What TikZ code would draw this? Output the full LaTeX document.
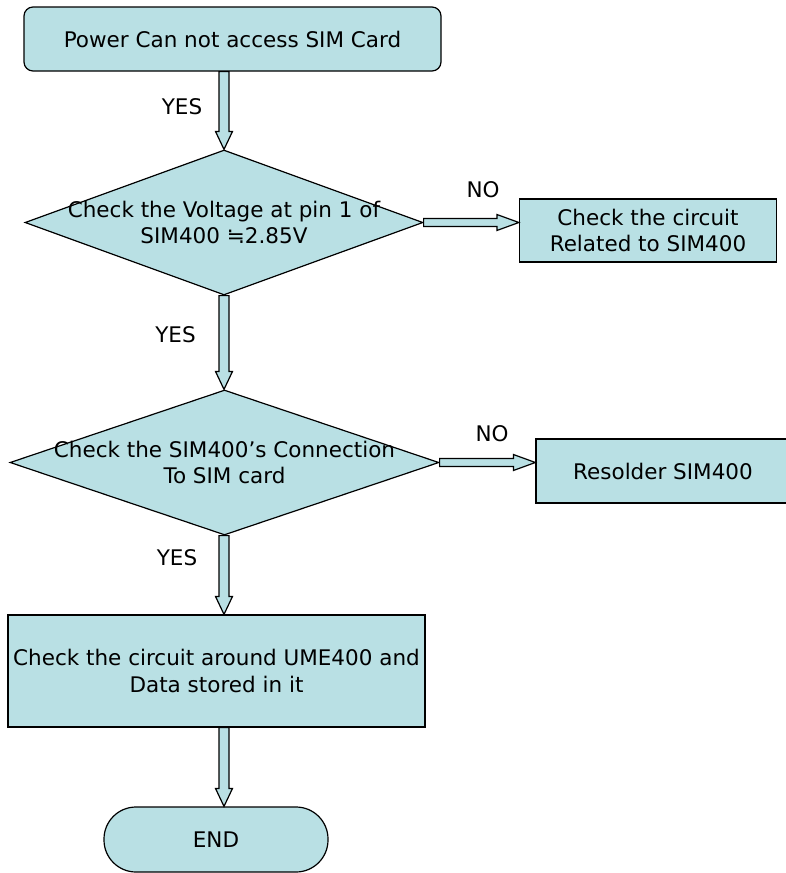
\documentclass[tikz,border=0pt]{standalone}
\usepackage{fontspec}
\setmainfont{DejaVu Sans}
\usetikzlibrary{shapes.geometric,calc}
\definecolor{boxfill}{RGB}{185,224,228}
\tikzset{box/.style={draw, fill=boxfill, line width=1.2pt, align=center, inner sep=0pt},
	dec/.style={diamond, draw, fill=boxfill, line width=1.2pt, inner sep=0pt},
	fat/.style={draw, fill=boxfill, line width=1.2pt, line join=miter},
	lbl/.style={inner sep=0pt}}
% hollow block arrows
\newcommand{\vfat}[2]{\draw[fat] ($(#1.south -| axis)+(-5,0)$) -- ($(#2.north -| axis)+(-5,-18)$) -- ($(#2.north -| axis)+(-8.5,-18)$) -- (#2.north -| axis) -- ($(#2.north -| axis)+(8.5,-18)$) -- ($(#2.north -| axis)+(5,-18)$) -- ($(#1.south -| axis)+(5,0)$) -- cycle;}
\newcommand{\hfat}[2]{\draw[fat] ($(#1.east)+(0,-4)$) -- ($(#2.west |- #1.east)+(-22,-4)$) -- ($(#2.west |- #1.east)+(-22,-8)$) -- (#2.west |- #1.east) -- ($(#2.west |- #1.east)+(-22,8)$) -- ($(#2.west |- #1.east)+(-22,4)$) -- ($(#1.east)+(0,4)$) -- cycle;}
\begin{document}
\begin{tikzpicture}[x=1pt, y=-1pt, every node/.style={font=\fontsize{21.5}{26.5}\selectfont}]
		\useasboundingbox (0,0) rectangle (786,873);
		\coordinate (axis) at (224,0);
		\node[box, rounded corners=9pt, minimum width=417, minimum height=64] (s) at (232.5,39) {Power Can not access SIM Card};
		\node[dec, minimum width=398, minimum height=145, label={[align=center]center:Check the Voltage at pin 1 of\\SIM400 ≒2.85V}] (d1) at (224,222.5) {};
		\node[box, minimum width=257, minimum height=63] (c) at (648,230.5) {Check the circuit\\Related to SIM400};
		\node[dec, minimum width=429, minimum height=145, label={[align=center]center:Check the SIM400’s Connection\\To SIM card}] (d2) at (224.5,462.5) {};
		\node[box, minimum width=254, minimum height=64] (r) at (663,471) {Resolder SIM400};
		\node[box, minimum width=417, minimum height=112] (u) at (216.5,671) {Check the circuit around UME400 and\\Data stored in it};
		\node[box, rounded corners=32pt, minimum width=224, minimum height=65] (e) at (216,839.5) {END};
		\vfat{s}{d1}
		\vfat{d1}{d2}
		\vfat{d2}{u}
		\vfat{u}{e}
		\hfat{d1}{c}
		\hfat{d2}{r}
		\node[lbl] (y1) at (182,107) {YES};
		\node[lbl] (y2) at (175.5,334.5) {YES};
		\node[lbl] (y3) at (177,558) {YES};
		\node[lbl] (n1) at (483,190) {NO};
		\node[lbl] (n2) at (492,434) {NO};
\end{tikzpicture}
\end{document}
